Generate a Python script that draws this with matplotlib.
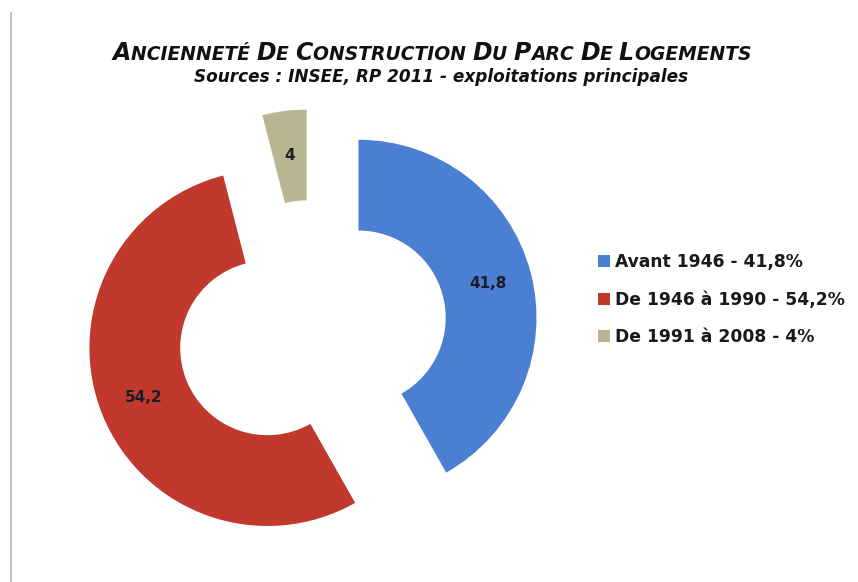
import matplotlib
matplotlib.use("Agg")
import matplotlib.pyplot as plt
from matplotlib.lines import Line2D

# ---- data ----
categories = ["Avant 1946", "De 1946 à 1990", "De 1991 à 2008"]
values = [41.8, 54.2, 4.0]
colors = ["#4a7fd2", "#c0392c", "#b8b691"]
explode = [0.27, 0.27, 0.24]

title = "Ancienneté de construction du parc de logements"
subtitle = "Sources : INSEE, RP 2011 - exploitations principales"


def fr(v):
    s = f"{v:.1f}".replace(".", ",")
    return s[:-2] if s.endswith(",0") else s


legend_labels = [f"{c} - {fr(v)}%" for c, v in zip(categories, values)]

W, H, DPI = 858, 582, 100
fig = plt.figure(figsize=(W / DPI, H / DPI), dpi=DPI)
fig.patch.set_facecolor("white")

# donut axes: centre at pixel (cx, cy), R px per unit radius
R = 178
cx, cy = 312, 330
half_w, half_h = 300, 250
ax = fig.add_axes([(cx - half_w) / W, (H - cy - half_h) / H,
                   2 * half_w / W, 2 * half_h / H])
wedges, texts, autotexts = ax.pie(
    values, colors=colors, explode=explode, startangle=90, counterclock=False,
    wedgeprops=dict(width=0.51, edgecolor="none"),
    autopct=fr, pctdistance=0.75,
    textprops=dict(fontsize=11, fontweight="bold", color="#1c1c28"))
ax.set_xlim(-half_w / R, half_w / R)
ax.set_ylim(-half_h / R, half_h / R)
ax.set_aspect("equal")
ax.axis("off")

# legend
fig.legend(wedges, legend_labels, loc="upper left",
           bbox_to_anchor=(583 / W, 1 - 238 / H), frameon=False,
           handlelength=0.7, handleheight=0.7, handletextpad=0.3,
           labelspacing=1.14, prop=dict(size=12.3, weight="bold"),
           labelcolor="#1a1a1a")

# small-caps title
renderer = fig.canvas.get_renderer()
big, small = 17, 13.5
pieces = []
for i, ch in enumerate(title):
    is_big = ch != " " and (i == 0 or title[i - 1] == " ")
    if pieces and pieces[-1][1] == is_big:
        pieces[-1][0] += ch.upper()
    else:
        pieces.append([ch.upper(), is_big])
objs = []
xpos = 0.0
for txt, is_big in pieces:
    t = fig.text(0, 1 - 60 / H, txt, fontsize=big if is_big else small,
                 fontweight="bold", fontstyle="italic", ha="left",
                 va="baseline", color="#111111")
    w = t.get_window_extent(renderer).width
    objs.append((t, xpos))
    xpos += w
start = 432 - xpos / 2
for t, off in objs:
    t.set_x((start + off) / W)

fig.text(441 / W, 1 - 77 / H, subtitle, fontsize=12.2, fontweight="bold",
         fontstyle="italic", ha="center", va="center", color="#111111")

# scan border line on the left
fig.add_artist(Line2D([11 / W, 11 / W], [0, 1 - 13 / H], color="#b5b5b5",
                      lw=1.2, transform=fig.transFigure))

fig.savefig("out.png", dpi=DPI)
